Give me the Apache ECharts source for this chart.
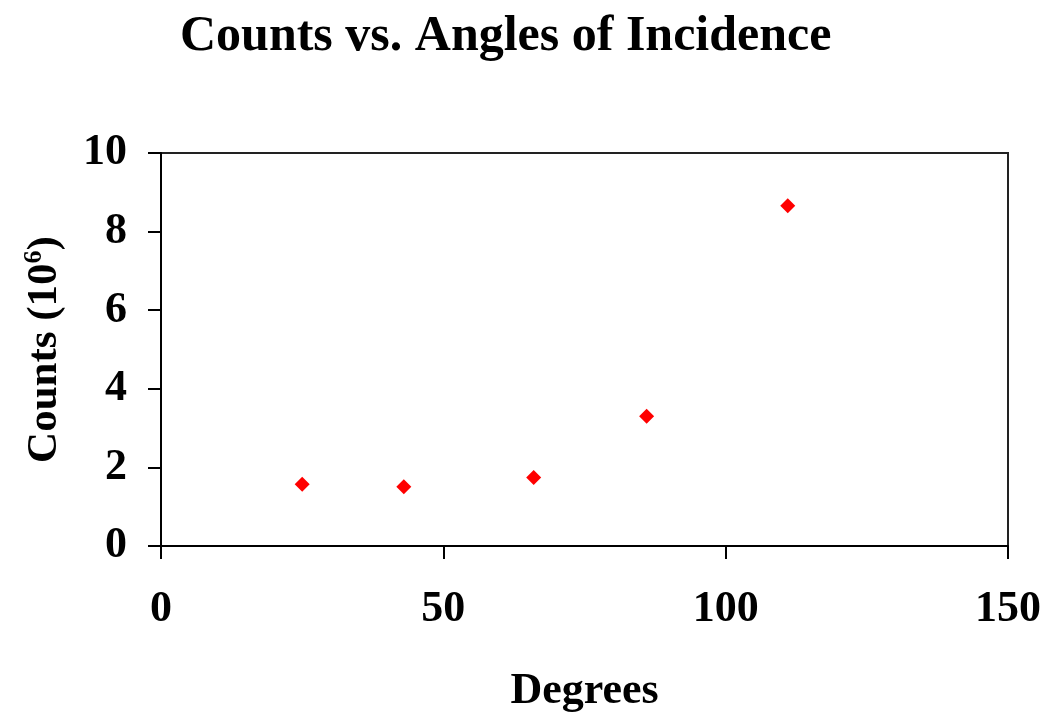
<!DOCTYPE html>
<html>
<head>
<meta charset="utf-8">
<script src="https://cdn.jsdelivr.net/npm/echarts@6/dist/echarts.min.js"></script>
<style>
  html, body { margin: 0; padding: 0; background: #fff; }
  #chart { width: 1058px; height: 714px; }
</style>
</head>
<body>
<div id="chart"></div>
<script>
// 入射角 (度)
var angles = [25, 43, 66, 86, 111];
// 计数 (10^6)
var counts = [1.57, 1.51, 1.74, 3.30, 8.66];

var serif = '"Liberation Serif", "Times New Roman", serif';

var points = [];
for (var i = 0; i < angles.length; i++) {
    points.push([angles[i], counts[i]]);
}

var chart = echarts.init(document.getElementById('chart'));
chart.setOption({
    backgroundColor: '#fff',
    animation: false,
    title: {
        text: 'Counts vs. Angles of Incidence',
        left: 175,
        top: 7,
        textStyle: {
            fontFamily: serif,
            fontWeight: 'bold',
            fontSize: 50,
            color: '#000'
        }
    },
    grid: {
        left: 161,
        right: 50,
        top: 153,
        bottom: 168,
        outerBoundsMode: 'none',
        containLabel: false,
        show: true,
        borderColor: '#222',
        borderWidth: 2,
        backgroundColor: '#fff'
    },
    xAxis: {
        type: 'value',
        min: 0,
        max: 150,
        interval: 50,
        name: 'Degrees',
        nameLocation: 'middle',
        nameGap: 124,
        nameTextStyle: {
            fontFamily: serif,
            fontWeight: 'bold',
            fontSize: 44,
            color: '#000'
        },
        axisLine: { show: true, onZero: false, lineStyle: { color: '#000', width: 2 } },
        axisTick: { show: true, inside: false, length: 13, lineStyle: { color: '#000', width: 2 } },
        axisLabel: {
            margin: 42,
            fontFamily: serif,
            fontWeight: 'bold',
            fontSize: 44,
            color: '#000'
        },
        splitLine: { show: false }
    },
    yAxis: {
        type: 'value',
        min: 0,
        max: 10,
        interval: 2,
        name: 'Counts (10{sup|6})',
        nameLocation: 'middle',
        nameRotate: 90,
        nameGap: 92,
        nameTextStyle: {
            fontFamily: serif,
            fontWeight: 'bold',
            fontSize: 43,
            color: '#000',
            rich: {
                sup: {
                    fontFamily: serif,
                    fontWeight: 'bold',
                    fontSize: 26,
                    color: '#000',
                    verticalAlign: 'top',
                    padding: [0, 0, 22, 0]
                }
            }
        },
        axisLine: { show: true, lineStyle: { color: '#000', width: 2 } },
        axisTick: { show: true, inside: false, length: 13, lineStyle: { color: '#000', width: 2 } },
        axisLabel: {
            margin: 34,
            fontFamily: serif,
            fontWeight: 'bold',
            fontSize: 44,
            color: '#000'
        },
        splitLine: { show: false }
    },
    series: [{
        type: 'scatter',
        data: points,
        symbol: 'diamond',
        symbolSize: 15,
        itemStyle: { color: '#ff0000', opacity: 1 }
    }]
});
</script>
</body>
</html>
